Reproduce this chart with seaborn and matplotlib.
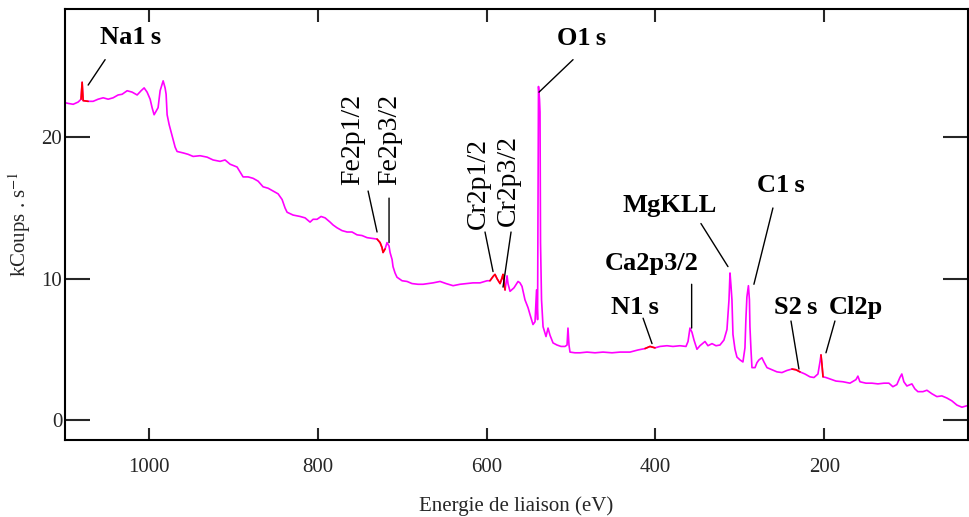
import matplotlib
matplotlib.use('Agg')
import matplotlib.pyplot as plt
import pandas as pd
import seaborn as sns
import numpy as np

# spectre XPS (energie de liaison en eV, kCoups/s)
energie = [1101, 1095, 1089.3, 1083.4, 1080, 1078.7, 1077.5, 1071.6, 1065.7, 1059.8,
           1053.8, 1047.9, 1042, 1036.1, 1031.4, 1025.4, 1019.5, 1013.6, 1008.9, 1005.3,
           1001.8, 998.2, 995.9, 993.5, 991.1, 988.8, 986.4, 982.8, 980.5, 979.3,
           978.1, 975.7, 972.2, 968.6, 966.3, 959.2, 953.3, 947.3, 939.1, 930.8,
           923.7, 915.4, 909.5, 903.6, 895.3, 888.2, 882.2, 876.3, 870.4, 864.5,
           858.6, 852.7, 846.7, 842, 838.5, 836.1, 829, 820.7, 814.8, 808.9,
           805.3, 800.6, 795.9, 791.1, 785.2, 781.7, 777, 771.1, 765.1, 759.2,
           753.3, 747.4, 741.4, 735.5, 729.6, 726, 723.7, 722.5, 720.1, 717.8,
           715.4, 714.2, 711.8, 710.7, 708.3, 706, 700, 694.1, 688.2, 681.1,
           675.1, 669.2, 663.3, 655, 647.9, 639.6, 631.4, 623.1, 616, 607.7,
           599.4, 595.9, 592.3, 590, 587.6, 584, 581.7, 580.5, 578.1, 575.7,
           574.6, 572.2, 567.5, 562.7, 560.4, 558, 554.5, 550.9, 548.5, 545,
           542.6, 540.8, 539.6, 538.5, 537.3, 536.7, 536.1, 534.9, 533.1, 529.6,
           527.2, 524.9, 521.3, 516.6, 511.8, 507.1, 504.7, 503.6, 502.4, 501.2,
           495.3, 489.3, 481.1, 471.6, 462.1, 451.5, 442, 430.2, 420.7, 412.4,
           406.5, 400.6, 394.7, 386.4, 379.3, 371, 363.9, 361.5, 359.2, 356.8,
           354.4, 350.9, 347.4, 341.4, 337.9, 333.1, 328.4, 323.7, 319, 315.4,
           313, 311.8, 310.7, 309.5, 308.3, 305.9, 303.6, 300, 296.5, 294.1,
           293, 291.8, 290, 288.8, 288.2, 287, 285.8, 282.2, 279.9, 277.5,
           274, 271.6, 268, 262.1, 256.2, 250.3, 244.4, 238.5, 233.7, 229,
           223.1, 217.2, 212.4, 207.7, 205.3, 204.1, 202.9, 201.7, 198.2, 193.5,
           186.4, 178.1, 169.8, 162.7, 160.4, 158, 150.9, 143.8, 136.7, 129.6,
           123.7, 119, 114.3, 110.7, 108.4, 106, 102.4, 96.5, 93, 89.4,
           83.4, 78.7, 72.8, 66.9, 61, 55.1, 49.2, 43.2, 37.3, 31.4]

coups = [22.48, 22.4, 22.34, 22.5, 22.7, 23.9, 22.6, 22.55, 22.55, 22.7,
         22.8, 22.7, 22.8, 23.0, 23.05, 23.3, 23.2, 23.0, 23.3, 23.5,
         23.2, 22.7, 22.1, 21.6, 21.85, 22.1, 23.3, 24.0, 23.5, 23.05,
         21.6, 20.9, 20.1, 19.3, 19.0, 18.9, 18.8, 18.65, 18.7, 18.6,
         18.4, 18.3, 18.4, 18.1, 17.9, 17.2, 17.2, 17.1, 16.9, 16.5,
         16.4, 16.2, 16.0, 15.6, 15.0, 14.7, 14.5, 14.4, 14.3, 14.0,
         14.2, 14.2, 14.4, 14.3, 14.0, 13.8, 13.6, 13.4, 13.3, 13.3,
         13.1, 13.05, 12.9, 12.85, 12.8, 12.55, 12.2, 11.85, 12.1, 12.55,
         12.3, 11.85, 11.35, 10.85, 10.4, 10.1, 9.85, 9.8, 9.65, 9.6,
         9.6, 9.65, 9.7, 9.8, 9.65, 9.5, 9.6, 9.65, 9.7, 9.7,
         9.85, 9.85, 10.15, 10.3, 10.0, 9.65, 10.05, 10.3, 9.2, 10.2,
         9.65, 9.1, 9.35, 9.8, 9.7, 9.45, 8.5, 7.95, 7.45, 6.75,
         6.95, 9.2, 7.1, 23.6, 22.7, 21.8, 12.55, 8.5, 6.6, 5.9,
         6.5, 6.0, 5.45, 5.3, 5.2, 5.2, 5.3, 6.5, 5.3, 4.8,
         4.75, 4.75, 4.8, 4.75, 4.8, 4.75, 4.8, 4.8, 4.95, 5.05,
         5.2, 5.1, 5.2, 5.25, 5.2, 5.25, 5.2, 5.55, 6.5, 6.2,
         5.65, 5.0, 5.25, 5.55, 5.25, 5.4, 5.25, 5.3, 5.65, 6.4,
         8.5, 10.4, 9.55, 8.5, 6.05, 5.0, 4.45, 4.25, 4.1, 5.1,
         7.1, 8.7, 9.5, 8.5, 6.6, 5.0, 3.7, 3.7, 4.05, 4.25,
         4.4, 4.1, 3.7, 3.55, 3.4, 3.35, 3.5, 3.6, 3.55, 3.4,
         3.25, 3.05, 3.0, 3.25, 4.1, 4.6, 3.9, 3.05, 3.0, 2.9,
         2.75, 2.7, 2.6, 2.85, 3.1, 2.7, 2.6, 2.6, 2.55, 2.6,
         2.6, 2.35, 2.5, 3.0, 3.25, 2.7, 2.4, 2.55, 2.2, 2.0,
         2.0, 2.1, 1.85, 1.65, 1.7, 1.55, 1.35, 1.05, 0.9, 1.0]

# zones marquees en rouge (eV max, eV min)
zones_rouges = [(1080, 1071), (731, 718), (596, 578), (413, 400), (240, 229), (205, 201)]

# etiquettes des pics : texte, position du texte, trait (debut -> fin), rotation
pics = ['Na1\u2009s', 'Fe2p1/2', 'Fe2p3/2', 'Cr2p1/2', 'Cr2p3/2', 'O1\u2009s',
        'MgKLL', 'C1\u2009s', 'Ca2p3/2', 'N1\u2009s', 'S2\u2009s', 'Cl2p']
pos_texte = [(1021.9, 27.1), (758, 19.86), (714.2, 19.86), (610.1, 16.7), (574.6, 16.95),
             (487, 27.0), (382.8, 15.2), (251.5, 16.6), (404, 11.1), (424.1, 7.95),
             (233.7, 7.95), (162.7, 7.95)]
trait_debut = [(1051.5, 25.5), (740.2, 16.2), (715.4, 15.7), (601.8, 13.3), (571, 13.3),
               (497.6, 25.5), (346.2, 13.9), (261, 15.0), (357.2, 9.6), (414.7, 7.2),
               (239.6, 7.0), (187.6, 7.0)]
trait_fin = [(1071.6, 23.7), (729.6, 13.3), (715.4, 12.55), (592.3, 10.5), (580.5, 9.4),
             (537.9, 23.2), (314.2, 10.85), (283.5, 9.6), (357.2, 6.5), (404.1, 5.4),
             (230.2, 3.6), (198.2, 4.75)]
rotation = [0, 90, 90, 90, 90, 0, 0, 0, 0, 0, 0, 0]

df = pd.DataFrame({'energie': energie, 'coups': coups})

sns.set_style('white')
plt.rcParams['font.family'] = ['Liberation Serif', 'DejaVu Serif']
plt.rcParams['mathtext.fontset'] = 'stix'

fig = plt.figure(figsize=(9.7, 5.17), dpi=100)
ax = fig.add_axes([0.067, 0.149, 0.931, 0.834])

sns.lineplot(data=df, x='energie', y='coups', color='#ff00ff', lw=1.2,
             estimator=None, sort=False, ax=ax)
for hi, lo in zones_rouges:
    sub = df[(df['energie'] <= hi) & (df['energie'] >= lo)]
    ax.plot(sub['energie'], sub['coups'], color='red', lw=1.2)

for lab, pt, d, f, r in zip(pics, pos_texte, trait_debut, trait_fin, rotation):
    ax.annotate('', xy=f, xytext=d,
                arrowprops=dict(arrowstyle='-', color='black', lw=1.0,
                                shrinkA=0, shrinkB=0))
    if r == 0:
        ax.text(pt[0], pt[1], lab, ha='center', va='center',
                fontsize=19, fontweight='bold', color='black')
    else:
        ax.text(pt[0], pt[1], lab, rotation=90, ha='center', va='center',
                fontsize=20, color='black')

ax.set_xlim(1099, 30)
ax.set_ylim(-1.42, 29.1)
ax.set_xticks([1000, 800, 600, 400, 200])
ax.set_yticks([0, 10, 20])

for s in ax.spines.values():
    s.set_color('black')
    s.set_linewidth(1.5)

ax.tick_params(axis='x', direction='in', length=9, width=1.5, top=True, bottom=True,
               labelsize=15, pad=13)
ax.tick_params(axis='y', direction='in', length=18, width=1.5, left=True, right=True,
               labelsize=15, pad=2)

ax.set_xlabel('Energie de liaison (eV)', fontsize=15, labelpad=14)
ax.set_ylabel('kCoups . s$^{-1}$', fontsize=15)
ax.yaxis.set_label_coords(-0.035, 0.5)

plt.savefig('out.png', dpi=100)
